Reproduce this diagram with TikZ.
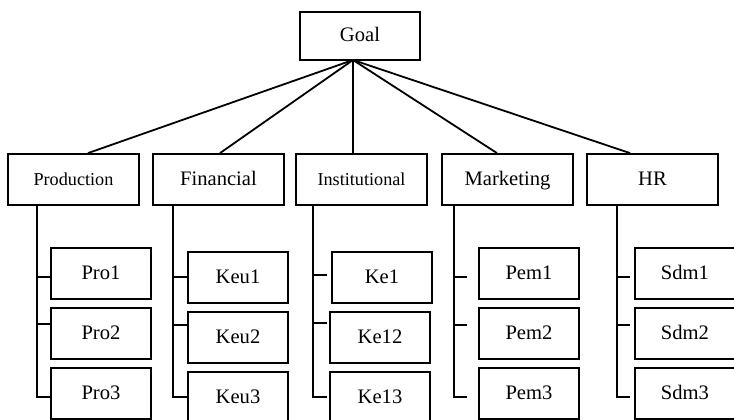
\documentclass[tikz,border=0pt]{standalone}
\usepackage{fontspec}
\setmainfont{Liberation Serif}
\usetikzlibrary{positioning,calc}
\tikzset{
  every node/.style={font=\rmfamily}
}

\begin{document}
\begin{tikzpicture}[x=0.5pt, y=-0.5pt]
  \tikzset{
    goalbox/.style={
      draw,
      rectangle,
      fill=white,
      minimum width=60pt,
      minimum height=24pt,
      inner sep=0pt,
      text height=1.6ex,
      text depth=0.4ex,
      line width=0.9pt,
      font=\fontsize{10.3}{12}\selectfont
    },
    catbox/.style={
      goalbox,
      minimum width=65.5pt,
      minimum height=25.5pt
    },
    subbox/.style={
      goalbox,
      minimum width=50pt,
      minimum height=25.5pt
    },
    smalltext/.style={
      font=\fontsize{9.1}{11}\selectfont
    },
    link/.style={
      draw=black,
      line width=0.9pt
    }
  }

  % Frame
  \useasboundingbox (0,0) rectangle (734,419);
  \clip (0,0) rectangle (734,419);

  % Goal
  \node[goalbox] (goal) at (360,36) {Goal};
  \coordinate (apex) at (353,60);

  % Criteria
  \node[catbox, smalltext] (prod) at (73.5,179.5) {Production};
  \node[catbox] (fin) at (218.5,179.5) {Financial};
  \node[catbox, smalltext] (inst) at (361.5,179.5) {Institutional};
  \node[catbox] (mkt) at (507.5,179.5) {Marketing};
  \node[catbox] (hr) at (652.5,179.5) {HR};

  % Goal to criteria
  \draw[link] (apex) -- ($(prod.north)+(14.5,0)$);
  \draw[link] (apex) -- ($(fin.north)+(1.5,0)$);
  \draw[link] (apex) -- ($(inst.north)+(-8.5,0)$);
  \draw[link] (apex) -- ($(mkt.north)+(-10.5,0)$);
  \draw[link] (apex) -- ($(hr.north)+(-22.5,0)$);

  % Sub-criteria
  \node[subbox] (pro1) at (101,273.5) {Pro1};
  \node[subbox] (pro2) at (101,333.5) {Pro2};
  \node[subbox] (pro3) at (101,393.5) {Pro3};

  \node[subbox] (keu1) at (238,277.5) {Keu1};
  \node[subbox] (keu2) at (238,337.5) {Keu2};
  \node[subbox] (keu3) at (238,397.5) {Keu3};

  \node[subbox] (ke1) at (382,277.5) {Ke1};
  \node[subbox] (ke12) at (380,337.5) {Ke12};
  \node[subbox] (ke13) at (380,397.5) {Ke13};

  \node[subbox] (pem1) at (529,273.5) {Pem1};
  \node[subbox] (pem2) at (529,333.5) {Pem2};
  \node[subbox] (pem3) at (529,393.5) {Pem3};

  \node[subbox] (sdm1) at (685,273.5) {Sdm1};
  \node[subbox] (sdm2) at (685,333.5) {Sdm2};
  \node[subbox] (sdm3) at (685,393.5) {Sdm3};

  % Production branches
  \coordinate (prodT) at ($(prod.south west)+(30,0)$);
  \draw[link] (prodT) |- ($(pro1.west)+(0,3.5)$);
  \draw[link] (prodT) |- ($(pro2.west)+(0,-9.5)$);
  \draw[link] (prodT) |- ($(pro3.west)+(0,3.5)$);

  % Financial branches
  \coordinate (finT) at ($(fin.south west)+(21,0)$);
  \draw[link] (finT) |- ($(keu1.west)+(0,-0.5)$);
  \draw[link] (finT) |- ($(keu2.west)+(0,-12.5)$);
  \draw[link] (finT) |- ($(keu3.west)+(0,-0.5)$);

  % Institutional branches
  \coordinate (instT) at ($(inst.south west)+(18,0)$);
  \draw[link] (instT) |- ($(ke1.west)+(-4,-2.5)$);
  \draw[link] (instT) |- ($(ke12.west)+(-2,-14.5)$);
  \draw[link] (instT) |- ($(ke13.west)+(-2,-0.5)$);

  % Marketing branches
  \coordinate (mktT) at ($(mkt.south west)+(13,0)$);
  \draw[link] (mktT) |- ($(pem1.west)+(-11,3.5)$);
  \draw[link] (mktT) |- ($(pem2.west)+(-11,-8.5)$);
  \draw[link] (mktT) |- ($(pem3.west)+(-11,3.5)$);

  % HR branches
  \coordinate (hrT) at ($(hr.south west)+(31,0)$);
  \draw[link] (hrT) |- ($(sdm1.west)+(-4,3.5)$);
  \draw[link] (hrT) |- ($(sdm2.west)+(-4,-8.5)$);
  \draw[link] (hrT) |- ($(sdm3.west)+(-4,3.5)$);
\end{tikzpicture}
\end{document}
